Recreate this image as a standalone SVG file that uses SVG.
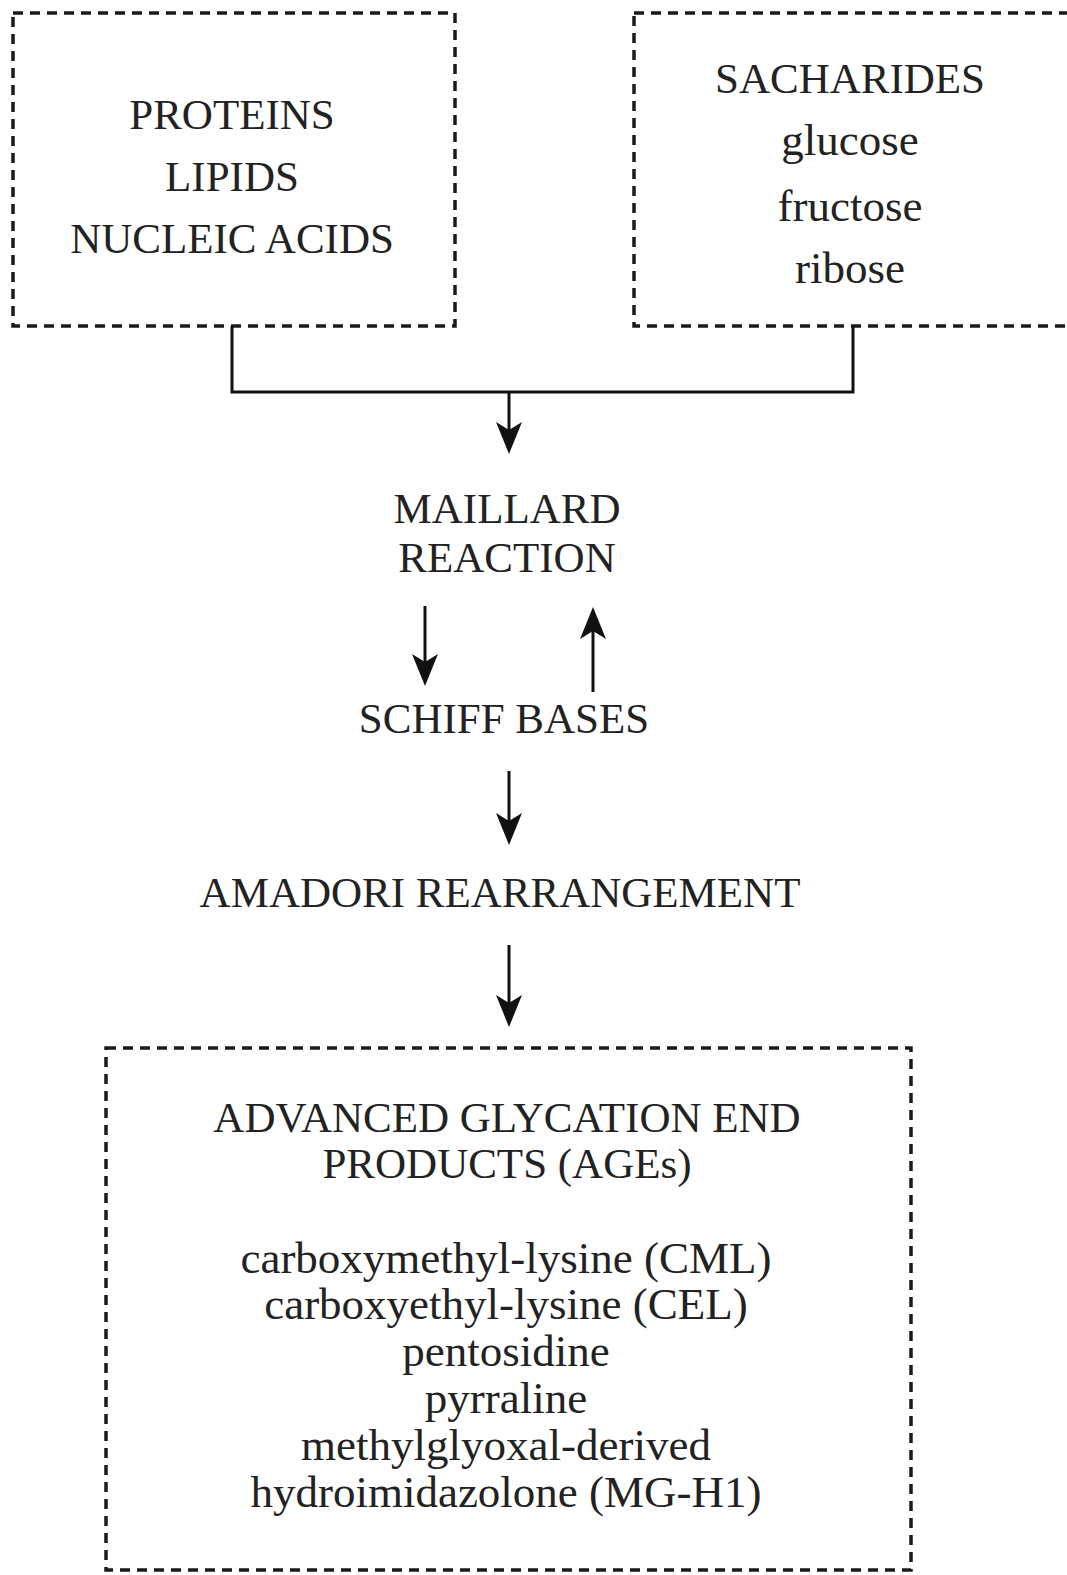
<svg xmlns="http://www.w3.org/2000/svg" width="1067" height="1575" viewBox="0 0 1067 1575">
<style>
.box{fill:none;stroke:#1a1a1a;stroke-width:3.5;stroke-dasharray:10 7}
.t{font-family:"Liberation Serif","Times New Roman",serif;fill:#222;text-anchor:middle}
.cap{font-size:43px}
.low{font-size:45px}
.ln{fill:none;stroke:#111;stroke-width:3}
</style>
<defs>
<marker id="ah" viewBox="0 0 32 26" refX="25" refY="13" markerWidth="32" markerHeight="26" markerUnits="userSpaceOnUse" orient="auto">
<path d="M0,0 L32,13 L0,26 L8,13 Z" fill="#111"/>
</marker>
</defs>
<rect width="1067" height="1575" fill="#fff"/>
<g id="n-inputs">
<rect class="box" x="13" y="13" width="442" height="313"/>
<text class="t cap" x="232" y="129">PROTEINS</text>
<text class="t cap" x="232" y="191">LIPIDS</text>
<text class="t cap" x="232" y="253">NUCLEIC ACIDS</text>
</g>
<g id="n-sacharides">
<rect class="box" x="634" y="13" width="450" height="313"/>
<text class="t cap" x="850" y="93">SACHARIDES</text>
<text class="t low" x="850" y="155">glucose</text>
<text class="t low" x="850" y="221">fructose</text>
<text class="t low" x="850" y="283">ribose</text>
</g>
<g id="n-maillard">
<text class="t cap" x="507" y="523">MAILLARD</text>
<text class="t cap" x="507" y="572">REACTION</text>
</g>
<g id="n-schiff">
<text class="t cap" x="504" y="733">SCHIFF BASES</text>
</g>
<g id="n-amadori">
<text class="t cap" x="500" y="907">AMADORI REARRANGEMENT</text>
</g>
<g id="n-ages">
<rect class="box" x="106" y="1048" width="805" height="522"/>
<text class="t cap" x="507" y="1132">ADVANCED GLYCATION END</text>
<text class="t cap" x="507" y="1178">PRODUCTS (AGEs)</text>
<text class="t low" x="506" y="1273">carboxymethyl-lysine (CML)</text>
<text class="t low" x="506" y="1319">carboxyethyl-lysine (CEL)</text>
<text class="t low" x="506" y="1366">pentosidine</text>
<text class="t low" x="506" y="1413">pyrraline</text>
<text class="t low" x="506" y="1460">methylglyoxal-derived</text>
<text class="t low" x="506" y="1507">hydroimidazolone (MG-H1)</text>
</g>
<g id="connectors">
<path class="ln" d="M232,326 V392 H853 V326"/>
<line class="ln" x1="509" y1="392" x2="509" y2="447" marker-end="url(#ah)"/>
<line class="ln" x1="425" y1="606" x2="425" y2="679" marker-end="url(#ah)"/>
<line class="ln" x1="593" y1="692" x2="593" y2="614" marker-end="url(#ah)"/>
<line class="ln" x1="509" y1="771" x2="509" y2="838" marker-end="url(#ah)"/>
<line class="ln" x1="509" y1="945" x2="509" y2="1020" marker-end="url(#ah)"/>
</g>
</svg>
